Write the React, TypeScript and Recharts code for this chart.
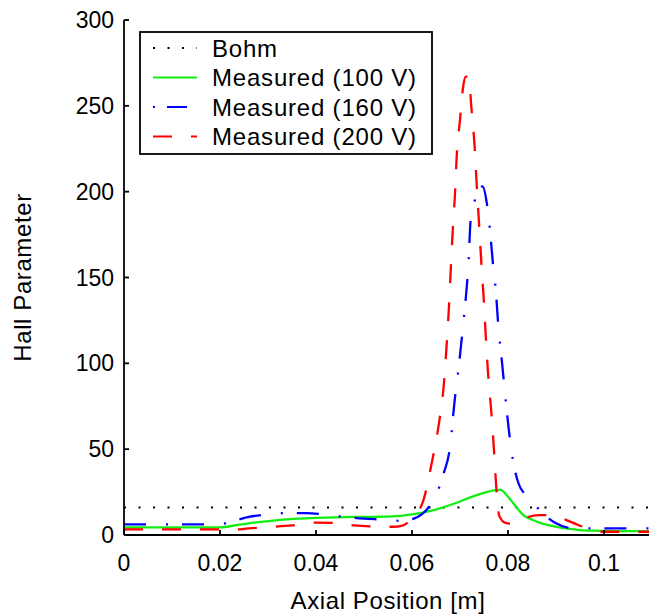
import React from "react";
import { LineChart, Line, XAxis, YAxis, ReferenceLine, Legend } from "recharts";

const xTicks = [0, 0.02, 0.04, 0.06, 0.08, 0.1];
const yTicks = [0, 50, 100, 150, 200, 250, 300];
const bohmLevel = 16;

// Measured (100 V)
const x100 = [0, 0.005, 0.01, 0.015, 0.02, 0.024, 0.028, 0.032, 0.036, 0.04, 0.044, 0.048, 0.052, 0.056, 0.06, 0.063, 0.066, 0.069, 0.072, 0.075, 0.077, 0.0785, 0.0797, 0.0811, 0.0832, 0.0852, 0.087, 0.0894, 0.092, 0.095, 0.098, 0.102, 0.106, 0.11];
const y100 = [4.5, 4.5, 4.5, 4.5, 4.5, 6, 7.5, 8.7, 9.5, 10, 10.3, 10.5, 10.6, 10.8, 12, 13.5, 15.7, 18.5, 21.8, 24.5, 26, 26.3, 23.3, 18.5, 11.6, 8.7, 6.8, 5.2, 3.8, 2.9, 2.5, 2.3, 2.2, 2.2];

// Measured (160 V)
const x160 = [0, 0.02, 0.022, 0.026, 0.03, 0.034, 0.038, 0.042, 0.046, 0.05, 0.054, 0.058, 0.0605, 0.063, 0.065, 0.0665, 0.068, 0.0688, 0.0699, 0.0706, 0.0713, 0.0718, 0.0722, 0.0731, 0.0747, 0.0756, 0.0763, 0.0768, 0.0775, 0.078, 0.0787, 0.0794, 0.0801, 0.081, 0.0822, 0.0838, 0.0856, 0.088, 0.09, 0.0935, 0.096, 0.1, 0.11];
const y160 = [6.2, 6.2, 7.5, 10.5, 12, 12.8, 12.8, 11.8, 10.5, 9.5, 9, 8.2, 9.7, 14.6, 23.3, 35, 53, 76, 102, 121, 141, 160, 183, 195, 203, 193, 176, 160, 141, 121, 102, 82, 63, 44, 30, 23, 17.5, 10.7, 6.8, 3.9, 3.9, 3.9, 3.9];

// Measured (200 V)
const x200 = [0, 0.02, 0.022, 0.026, 0.03, 0.035, 0.04, 0.044, 0.048, 0.052, 0.056, 0.058, 0.0603, 0.0624, 0.0641, 0.0655, 0.0667, 0.0672, 0.0677, 0.0681, 0.0685, 0.069, 0.0693, 0.07, 0.0707, 0.0712, 0.0718, 0.0724, 0.0731, 0.0735, 0.074, 0.0745, 0.075, 0.0754, 0.0759, 0.0766, 0.0772, 0.0776, 0.0782, 0.0795, 0.081, 0.0822, 0.0842, 0.0865, 0.0888, 0.0905, 0.0922, 0.0945, 0.0965, 0.0985, 0.1, 0.11];
const y200 = [3.3, 3.3, 3.0, 3.8, 4.6, 5.6, 7.2, 7.0, 5.6, 5.0, 4.8, 5.5, 10.7, 20.4, 41.8, 63, 90, 110, 133, 156, 178, 201, 220, 242, 262, 267, 267, 248, 224, 203, 180, 156, 135, 114, 92, 69, 44, 26, 11, 7, 6.5, 7.8, 10.5, 11.6, 11.6, 10.5, 8.7, 6, 3.9, 2, 1.9, 1.9];

const zip = (xs: number[], ys: number[]) => xs.map((x, i) => ({ x, y: ys[i] }));
const data100 = zip(x100, y100);
const data160 = zip(x160, y160);
const data200 = zip(x200, y200);

const FONT = '"Liberation Sans", Arial, Helvetica, sans-serif';
const GREEN = "#12ee12";
const BLUE = "#0000ff";
const RED = "#ff0000";

const legendItems = [
  { name: "Bohm", color: "#000", dash: "2 12.5" },
  { name: "Measured (100 V)", color: GREEN, dash: undefined },
  { name: "Measured (160 V)", color: BLUE, dash: "2 12 20 22" },
  { name: "Measured (200 V)", color: RED, dash: "19 19" },
];

const hideTick = () => <g />;

function LegendBox() {
  return (
    <svg width={294} height={124} style={{ display: "block" }}>
      <rect x={1} y={1} width={292} height={122} fill="#fff" stroke="#000" strokeWidth={1.8} />
      {legendItems.map((it, i) => {
        const cy = 17 + i * 29.5;
        return (
          <g key={it.name}>
            <line x1={14} x2={58} y1={cy} y2={cy} stroke={it.color} strokeWidth={2.2} strokeDasharray={it.dash} />
            <text x={73} y={cy + 8.5} fontSize={24} letterSpacing={0.8} fontFamily={FONT} fill="#000">
              {it.name}
            </text>
          </g>
        );
      })}
    </svg>
  );
}

function YLabel(props: any) {
  const vb = props.viewBox || { x: 0, y: 20, width: 124, height: 515 };
  const cx = vb.x + 22;
  const cy = vb.y + vb.height / 2;
  return (
    <text
      x={0}
      y={0}
      transform={`translate(${cx}, ${cy}) rotate(-90)`}
      textAnchor="middle"
      dominantBaseline="central"
      fontSize={24}
      letterSpacing={0.6}
      fontFamily={FONT}
      fill="#000"
    >
      Hall Parameter
    </text>
  );
}

export default function App() {
  return (
    <div
      style={{
        position: "fixed",
        left: 0,
        top: 0,
        width: 649,
        height: 616,
        overflow: "hidden",
        background: "#fff",
      }}
    >
      <LineChart width={660} height={616} margin={{ top: 20, right: 8, bottom: 0, left: 0 }}>
        <XAxis
          xAxisId="b"
          type="number"
          dataKey="x"
          domain={[0, 0.11]}
          ticks={xTicks}
          height={81}
          tickSize={-5}
          tickMargin={25}
          stroke="#000"
          strokeWidth={1.8}
          tick={{ fill: "#000", fontSize: 23, fontFamily: FONT }}
          tickFormatter={(v: number) => String(v)}
          label={{
            value: "Axial Position [m]",
            position: "insideBottom",
            offset: 7,
            fill: "#000",
            fontSize: 24,
            letterSpacing: 0.6,
            fontFamily: FONT,
          }}
        />
        <XAxis
          xAxisId="t"
          orientation="top"
          type="number"
          dataKey="x"
          domain={[0, 0.11]}
          ticks={xTicks}
          height={0}
          tickSize={-5}
          stroke="#000"
          strokeWidth={1.8}
          tick={hideTick}
        />
        <YAxis
          yAxisId="l"
          type="number"
          domain={[0, 300]}
          ticks={yTicks}
          width={124}
          tickSize={-5}
          tickMargin={15}
          stroke="#000"
          strokeWidth={1.8}
          tick={{ fill: "#000", fontSize: 23, fontFamily: FONT }}
          label={<YLabel />}
        />
        <YAxis
          yAxisId="r"
          orientation="right"
          type="number"
          domain={[0, 300]}
          ticks={yTicks}
          width={0}
          tickSize={-5}
          stroke="#000"
          strokeWidth={1.8}
          tick={hideTick}
        />
        <ReferenceLine
          xAxisId="b"
          yAxisId="l"
          y={bohmLevel}
          stroke="#000"
          strokeWidth={2}
          strokeDasharray="2 12.5"
        />
        <Line
          xAxisId="b"
          yAxisId="l"
          data={data100}
          dataKey="y"
          name="Measured (100 V)"
          type="monotone"
          stroke={GREEN}
          strokeWidth={2.3}
          dot={false}
          isAnimationActive={false}
        />
        <Line
          xAxisId="b"
          yAxisId="l"
          data={data160}
          dataKey="y"
          name="Measured (160 V)"
          type="monotone"
          stroke={BLUE}
          strokeWidth={2.3}
          strokeDasharray="22 20 2 14"
          dot={false}
          isAnimationActive={false}
        />
        <Line
          xAxisId="b"
          yAxisId="l"
          data={data200}
          dataKey="y"
          name="Measured (200 V)"
          type="monotone"
          stroke={RED}
          strokeWidth={2.3}
          strokeDasharray="19 19"
          dot={false}
          isAnimationActive={false}
        />
        <Legend
          layout="vertical"
          align="center"
          verticalAlign="middle"
          content={() => <LegendBox />}
          wrapperStyle={{ left: 139, top: 31, width: 294, height: 124 }}
        />
      </LineChart>
    </div>
  );
}
